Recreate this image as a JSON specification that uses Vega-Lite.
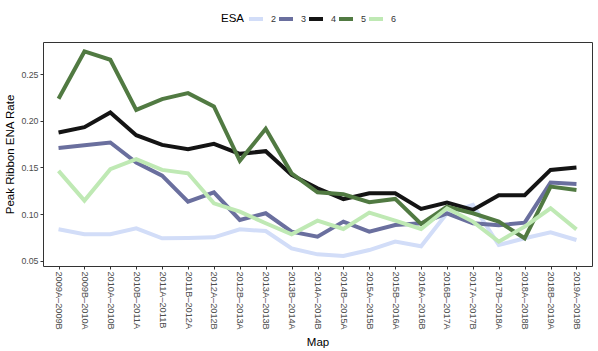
{
"$schema": "https://vega.github.io/schema/vega-lite/v6.json",
"width": 549, "height": 224,
"autosize": {"type": "none"},
"padding": {"left": 43, "top": 42, "right": 6, "bottom": 85},
"background": "white",
"config": {
  "font": "Liberation Sans",
  "view": {"stroke": "#333333", "strokeWidth": 1},
  "axis": {"grid": false, "domain": false, "tickColor": "#333333", "tickSize": 3, "labelColor": "#4d4d4d", "labelFontSize": 8.8, "titleFontSize": 11.5, "titleFontWeight": "normal", "titleColor": "black", "labelPadding": 2}
},
"datasets": {
  "d": [
{"Map":"2009A–2009B","ESA":"2","rate":0.0836},{"Map":"2009B–2010A","ESA":"2","rate":0.0783},{"Map":"2010A–2010B","ESA":"2","rate":0.0783},{"Map":"2010B–2011A","ESA":"2","rate":0.0847},{"Map":"2011A–2011B","ESA":"2","rate":0.074},{"Map":"2011B–2012A","ESA":"2","rate":0.0743},{"Map":"2012A–2012B","ESA":"2","rate":0.075},{"Map":"2012B–2013A","ESA":"2","rate":0.0836},{"Map":"2013A–2013B","ESA":"2","rate":0.0818},{"Map":"2013B–2014A","ESA":"2","rate":0.0632},{"Map":"2014A–2014B","ESA":"2","rate":0.0568},{"Map":"2014B–2015A","ESA":"2","rate":0.055},{"Map":"2015A–2015B","ESA":"2","rate":0.0614},{"Map":"2015B–2016A","ESA":"2","rate":0.0704},{"Map":"2016A–2016B","ESA":"2","rate":0.0655},{"Map":"2016B–2017A","ESA":"2","rate":0.1008},{"Map":"2017A–2017B","ESA":"2","rate":0.1097},{"Map":"2017B–2018A","ESA":"2","rate":0.0668},{"Map":"2018A–2018B","ESA":"2","rate":0.074},{"Map":"2018B–2019A","ESA":"2","rate":0.0804},{"Map":"2019A–2019B","ESA":"2","rate":0.0722},
{"Map":"2009A–2009B","ESA":"3","rate":0.1709},{"Map":"2009B–2010A","ESA":"3","rate":0.1738},{"Map":"2010A–2010B","ESA":"3","rate":0.1767},{"Map":"2010B–2011A","ESA":"3","rate":0.1552},{"Map":"2011A–2011B","ESA":"3","rate":0.1412},{"Map":"2011B–2012A","ESA":"3","rate":0.1133},{"Map":"2012A–2012B","ESA":"3","rate":0.1233},{"Map":"2012B–2013A","ESA":"3","rate":0.0937},{"Map":"2013A–2013B","ESA":"3","rate":0.1008},{"Map":"2013B–2014A","ESA":"3","rate":0.0811},{"Map":"2014A–2014B","ESA":"3","rate":0.0758},{"Map":"2014B–2015A","ESA":"3","rate":0.0919},{"Map":"2015A–2015B","ESA":"3","rate":0.0811},{"Map":"2015B–2016A","ESA":"3","rate":0.0883},{"Map":"2016A–2016B","ESA":"3","rate":0.0901},{"Map":"2016B–2017A","ESA":"3","rate":0.1008},{"Map":"2017A–2017B","ESA":"3","rate":0.0901},{"Map":"2017B–2018A","ESA":"3","rate":0.0879},{"Map":"2018A–2018B","ESA":"3","rate":0.0908},{"Map":"2018B–2019A","ESA":"3","rate":0.1337},{"Map":"2019A–2019B","ESA":"3","rate":0.1323},
{"Map":"2009A–2009B","ESA":"4","rate":0.1874},{"Map":"2009B–2010A","ESA":"4","rate":0.1931},{"Map":"2010A–2010B","ESA":"4","rate":0.2089},{"Map":"2010B–2011A","ESA":"4","rate":0.1845},{"Map":"2011A–2011B","ESA":"4","rate":0.1741},{"Map":"2011B–2012A","ESA":"4","rate":0.1695},{"Map":"2012A–2012B","ESA":"4","rate":0.1752},{"Map":"2012B–2013A","ESA":"4","rate":0.1645},{"Map":"2013A–2013B","ESA":"4","rate":0.1674},{"Map":"2013B–2014A","ESA":"4","rate":0.1419},{"Map":"2014A–2014B","ESA":"4","rate":0.1276},{"Map":"2014B–2015A","ESA":"4","rate":0.116},{"Map":"2015A–2015B","ESA":"4","rate":0.1223},{"Map":"2015B–2016A","ESA":"4","rate":0.1223},{"Map":"2016A–2016B","ESA":"4","rate":0.1055},{"Map":"2016B–2017A","ESA":"4","rate":0.1123},{"Map":"2017A–2017B","ESA":"4","rate":0.1044},{"Map":"2017B–2018A","ESA":"4","rate":0.1201},{"Map":"2018A–2018B","ESA":"4","rate":0.1201},{"Map":"2018B–2019A","ESA":"4","rate":0.1473},{"Map":"2019A–2019B","ESA":"4","rate":0.1498},
{"Map":"2009A–2009B","ESA":"5","rate":0.2235},{"Map":"2009B–2010A","ESA":"5","rate":0.2743},{"Map":"2010A–2010B","ESA":"5","rate":0.2654},{"Map":"2010B–2011A","ESA":"5","rate":0.2117},{"Map":"2011A–2011B","ESA":"5","rate":0.2232},{"Map":"2011B–2012A","ESA":"5","rate":0.2296},{"Map":"2012A–2012B","ESA":"5","rate":0.2153},{"Map":"2012B–2013A","ESA":"5","rate":0.157},{"Map":"2013A–2013B","ESA":"5","rate":0.1913},{"Map":"2013B–2014A","ESA":"5","rate":0.1437},{"Map":"2014A–2014B","ESA":"5","rate":0.1233},{"Map":"2014B–2015A","ESA":"5","rate":0.1212},{"Map":"2015A–2015B","ESA":"5","rate":0.1126},{"Map":"2015B–2016A","ESA":"5","rate":0.1162},{"Map":"2016A–2016B","ESA":"5","rate":0.0894},{"Map":"2016B–2017A","ESA":"5","rate":0.108},{"Map":"2017A–2017B","ESA":"5","rate":0.1008},{"Map":"2017B–2018A","ESA":"5","rate":0.0919},{"Map":"2018A–2018B","ESA":"5","rate":0.074},{"Map":"2018B–2019A","ESA":"5","rate":0.1294},{"Map":"2019A–2019B","ESA":"5","rate":0.1258},
{"Map":"2009A–2009B","ESA":"6","rate":0.1462},{"Map":"2009B–2010A","ESA":"6","rate":0.1144},{"Map":"2010A–2010B","ESA":"6","rate":0.148},{"Map":"2010B–2011A","ESA":"6","rate":0.1588},{"Map":"2011A–2011B","ESA":"6","rate":0.1473},{"Map":"2011B–2012A","ESA":"6","rate":0.1437},{"Map":"2012A–2012B","ESA":"6","rate":0.1115},{"Map":"2012B–2013A","ESA":"6","rate":0.1026},{"Map":"2013A–2013B","ESA":"6","rate":0.0901},{"Map":"2013B–2014A","ESA":"6","rate":0.0783},{"Map":"2014A–2014B","ESA":"6","rate":0.0929},{"Map":"2014B–2015A","ESA":"6","rate":0.084},{"Map":"2015A–2015B","ESA":"6","rate":0.1015},{"Map":"2015B–2016A","ESA":"6","rate":0.0929},{"Map":"2016A–2016B","ESA":"6","rate":0.084},{"Map":"2016B–2017A","ESA":"6","rate":0.1062},{"Map":"2017A–2017B","ESA":"6","rate":0.0919},{"Map":"2017B–2018A","ESA":"6","rate":0.0704},{"Map":"2018A–2018B","ESA":"6","rate":0.0865},{"Map":"2018B–2019A","ESA":"6","rate":0.1062},{"Map":"2019A–2019B","ESA":"6","rate":0.0836}
  ]
},
"data": {"name": "d"},
"mark": {"type": "line", "strokeWidth": 4, "strokeJoin": "miter"},
"encoding": {
  "x": {"field": "Map", "type": "ordinal", "sort": null, "scale": {"type": "point", "padding": 0.6},
        "axis": {"labelAngle": 90, "labelAlign": "left", "labelBaseline": "middle", "labelFontSize": 9.2, "title": "Map", "titlePadding": 7}},
  "y": {"field": "rate", "type": "quantitative", "scale": {"domain": [0.0443, 0.2844], "nice": false, "zero": false},
        "axis": {"values": [0.05, 0.1, 0.15, 0.2, 0.25], "format": ".2f", "title": "Peak Ribbon ENA Rate", "titlePadding": 5}},
  "color": {"field": "ESA", "type": "nominal",
    "scale": {"domain": ["2", "3", "4", "5", "6"], "range": ["#d2ddf8", "#6a6f9e", "#141414", "#517a42", "#bfe9b4"]},
    "legend": {"orient": "none", "legendX": 178, "legendY": -32, "direction": "horizontal", "titleOrient": "left",
      "symbolType": "stroke", "symbolStrokeWidth": 4, "symbolSize": 196, "labelFontSize": 9, "labelColor": "#333333",
      "titleFontSize": 11.5, "titleFontWeight": "normal", "titlePadding": 2, "columnPadding": -8, "labelOffset": 6}}
}
}
